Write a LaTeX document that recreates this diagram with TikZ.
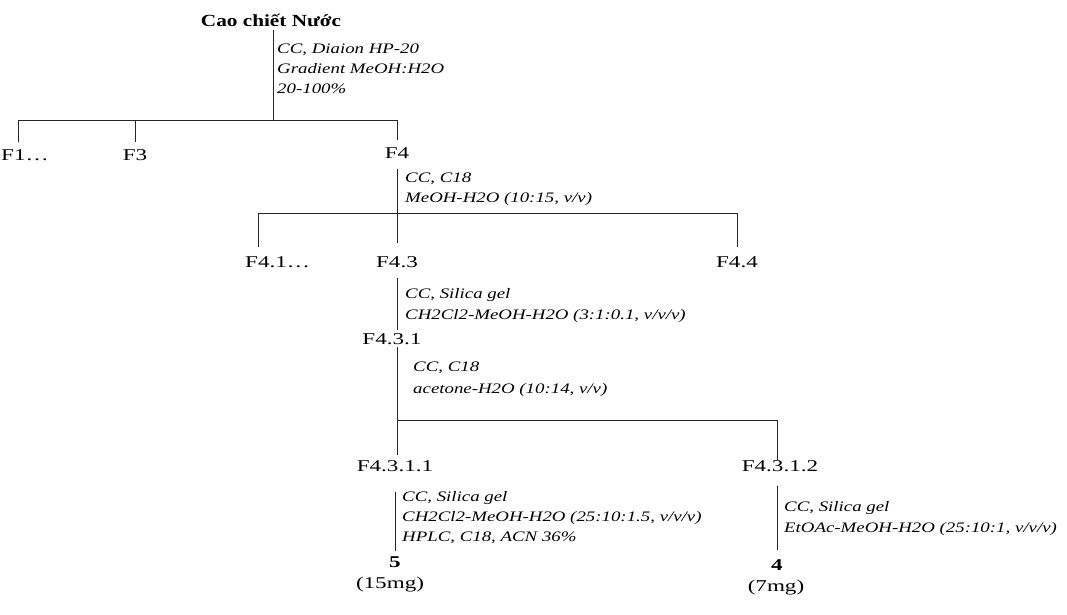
\documentclass[tikz,border=0pt]{standalone}
\usepackage{fontspec}
\setmainfont{Liberation Serif}
\newfontfamily\fracfont{Liberation Serif}[FakeStretch=1.4]
\newfontfamily\condfont{Liberation Serif}[FakeStretch=1.3]
\newfontfamily\headfont{Liberation Serif}[FakeStretch=1.25]
\begin{document}
\begin{tikzpicture}[x=1pt,y=-1pt,
  frac/.style={inner sep=0pt,font=\fracfont\fontsize{16.5}{18}\selectfont},
  comp/.style={inner sep=0pt,font=\fracfont\fontsize{16.5}{18}\selectfont},
  cond/.style={inner sep=0pt,anchor=north west,align=left,
    font=\condfont\itshape\fontsize{14.5}{20}\selectfont},
  link/.style={line width=0.9pt,black!85}]
\useasboundingbox (0,0) rectangle (1067,615);
% extract and first column
\node[inner sep=0pt,font=\headfont\bfseries\fontsize{17}{18}\selectfont] (cao) at (271,20) {Cao chiết Nước};
\coordinate (b1) at (273,120);
\draw[link,shorten <=4pt] (b1 |- cao.south) -- (b1);
\node[cond] (m0) at (277,44) {CC, Diaion HP-20\\Gradient MeOH:H2O\\20-100\%};
\node[frac,anchor=west] (F1) at (1,155) {F1…};
\node[frac] (F3) at (135,155) {F3};
\node[frac] (F4) at (397,153) {F4};
\draw[link] ([xshift=17pt]F1.west |- b1) -- (F4 |- b1);
\draw[link,shorten >=7pt] ([xshift=17pt]F1.west |- b1) -- ([xshift=17pt]F1.west |- F1.north);
\foreach \n in {F3,F4}
  \draw[link,shorten >=7pt] (\n |- b1) -- (\n.north);
% F4 on C18
\node[cond,font=\condfont\itshape\fontsize{14.5}{19.5}\selectfont] (m1) at (405,173) {CC, C18\\MeOH-H2O (10:15, v/v)};
\node[frac,anchor=west] (F41) at (245,262) {F4.1…};
\node[frac] (F43) at (397,262) {F4.3};
\node[frac] (F44) at (737,262) {F4.4};
\draw[link,shorten <=10pt,shorten >=13pt] (F4) -- (F43);
\coordinate (b2) at (397,213);
\draw[link] ([xshift=13pt]F41.west |- b2) -- (F44 |- b2);
\draw[link,shorten >=9pt] ([xshift=13pt]F41.west |- b2) -- ([xshift=13pt]F41.west |- F41.north);
\draw[link,shorten >=9pt] (F44 |- b2) -- (F44.north);
% F4.3 on silica gel
\node[cond,font=\condfont\itshape\fontsize{14.5}{21}\selectfont] (m2) at (405,288) {CC, Silica gel\\CH2Cl2-MeOH-H2O (3:1:0.1, v/v/v)};
\node[frac] (F431) at (392,339) {F4.3.1};
\draw[link,shorten <=10pt,shorten >=9pt] (F43) -- (F43 |- F431);
% F4.3.1 on C18
\node[cond,font=\condfont\itshape\fontsize{14.5}{22}\selectfont] (m3) at (413,362) {CC, C18\\acetone-H2O (10:14, v/v)};
\node[frac] (F4311) at (395,466) {F4.3.1.1};
\node[frac] (F4312) at (780,466) {F4.3.1.2};
\coordinate (b3) at (397,420);
\draw[link,shorten <=8pt,shorten >=11pt] (F43 |- F431) -- (F43 |- F4311);
\draw[link] (b3) -| ([xshift=-3pt]F4312.north);
\draw[link,shorten >=11pt] ([xshift=-3pt]F4312.north |- b3) -- ([xshift=-3pt]F4312.center);
% last steps to the pure compounds
\node[cond] (m4) at (402,491) {CC, Silica gel\\CH2Cl2-MeOH-H2O (25:10:1.5, v/v/v)\\HPLC, C18, ACN 36\%};
\node[cond,font=\condfont\itshape\fontsize{14.5}{21}\selectfont] (m5) at (784,501) {CC, Silica gel\\EtOAc-MeOH-H2O (25:10:1, v/v/v)};
\node[comp,font=\fracfont\bfseries\fontsize{16.5}{18}\selectfont] (c5) at (395,562) {5};
\node[comp] (q5) at (390,585) {(15mg)};
\node[comp,font=\fracfont\bfseries\fontsize{16.5}{18}\selectfont] (c4) at (777,565) {4};
\node[comp] (q4) at (776,588) {(7mg)};
\draw[link,shorten <=20pt,shorten >=11pt] (F4311) -- (F4311 |- c5);
\draw[link,shorten <=20pt,shorten >=15pt] ([xshift=-3pt]F4312.center) -- ([xshift=-3pt]F4312.center |- c4);
\end{tikzpicture}
\end{document}
